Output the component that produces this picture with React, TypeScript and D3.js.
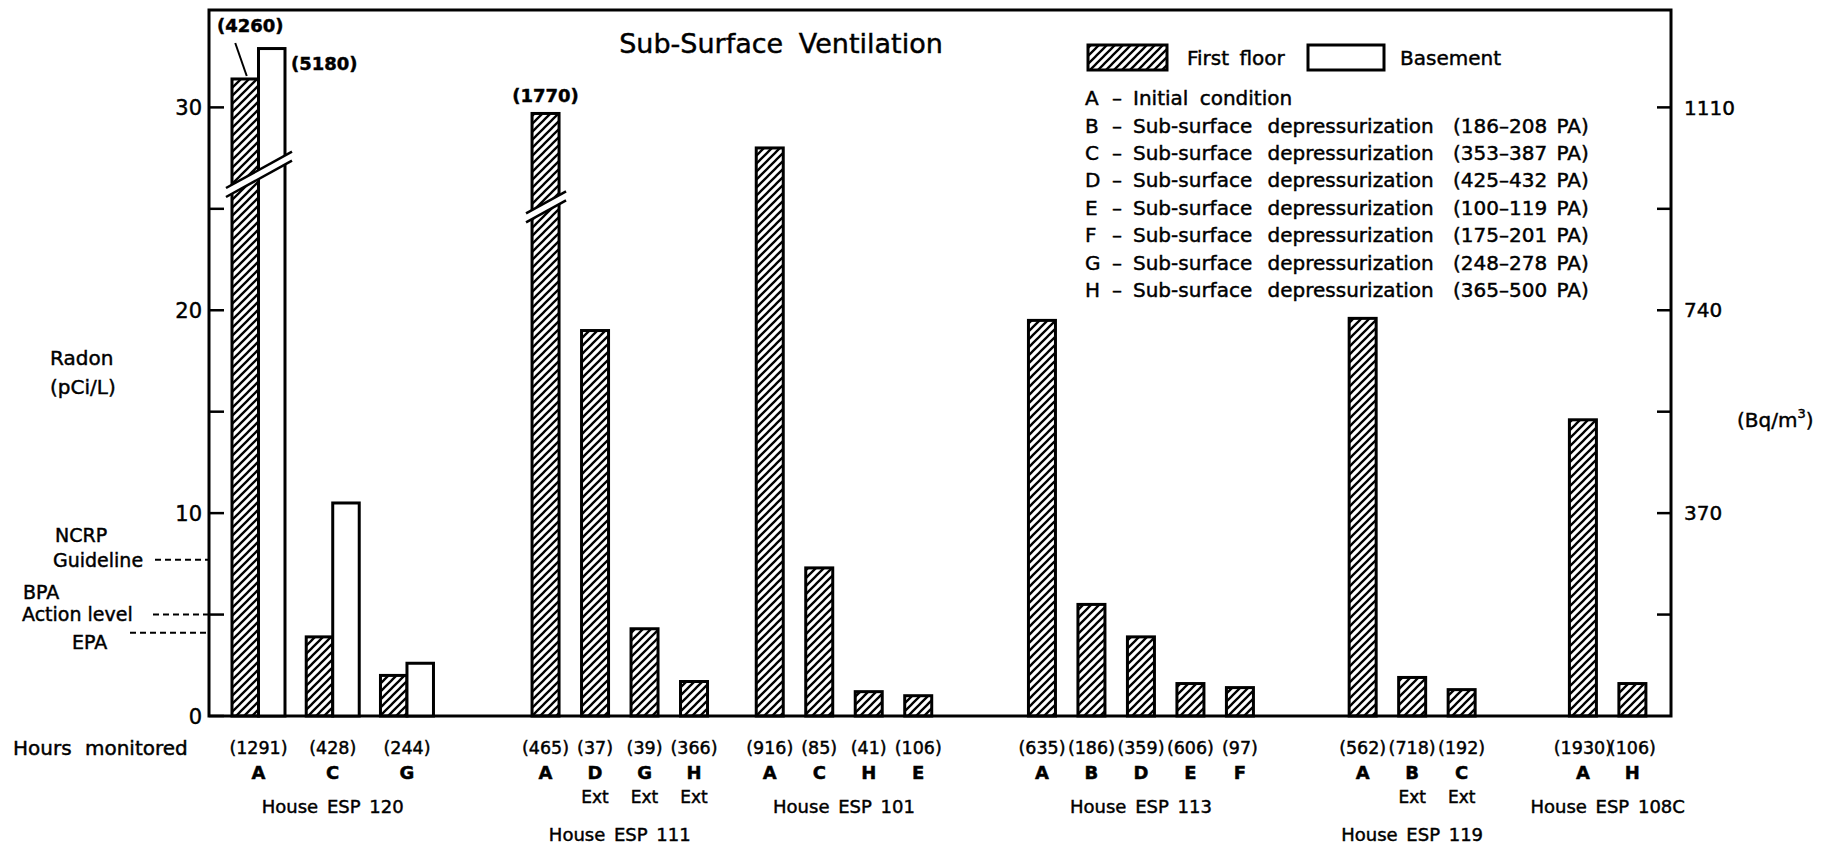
import { useEffect, useRef } from "react";
import * as d3 from "d3";

// houses and the conditions measured in each one
const houses = ["House ESP 120", "House ESP 111", "House ESP 101", "House ESP 113", "House ESP 119", "House ESP 108C"];
const conditions = [
  ["A", "C", "G"],
  ["A", "D", "G", "H"],
  ["A", "C", "H", "E"],
  ["A", "B", "D", "E", "F"],
  ["A", "B", "C"],
  ["A", "H"],
];
const hours = [
  [1291, 428, 244],
  [465, 37, 39, 366],
  [916, 85, 41, 106],
  [635, 186, 359, 606, 97],
  [562, 718, 192],
  [1930, 106],
];
const extMarks = [
  [false, false, false],
  [false, true, true, true],
  [false, false, false, false],
  [false, false, false, false, false],
  [false, true, true],
  [false, false],
];
// radon, pCi/L (bars drawn to these heights)
const firstFloor = [
  [31.4, 3.9, 2.0],
  [29.7, 19.0, 4.3, 1.7],
  [28.0, 7.3, 1.2, 1.0],
  [19.5, 5.5, 3.9, 1.6, 1.4],
  [19.6, 1.9, 1.3],
  [14.6, 1.6],
];
const basement = [[32.9, 10.5, 2.6], null, null, null, null, null];

// off-scale readings (Bq/m3) shown with broken bars
const offScaleFirst = [{ house: 0, cond: 0, label: "(4260)" }, { house: 1, cond: 0, label: "(1770)" }];
const offScaleBasement = [{ house: 0, cond: 0, label: "(5180)" }];
const breakLevels = [{ house: 0, cond: 0, level: 26.7 }, { house: 1, cond: 0, level: 25.1 }];

const guideNames = [["NCRP", "Guideline"], ["BPA", "Action level"], ["EPA"]];
const guideValues = [7.7, 5.0, 4.1];

const leftTicks = [0, 10, 20, 30];
const leftMinorTicks = [5, 15, 25];
const rightTicks = [370, 740, 1110];
const rightMinorTicks = [185, 555, 925];

const legendKeys = ["A", "B", "C", "D", "E", "F", "G", "H"];
const legendText = [
  "Initial condition",
  "Sub-surface depressurization",
  "Sub-surface depressurization",
  "Sub-surface depressurization",
  "Sub-surface depressurization",
  "Sub-surface depressurization",
  "Sub-surface depressurization",
  "Sub-surface depressurization",
];
const legendRange = ["", "(186–208 PA)", "(353–387 PA)", "(425–432 PA)", "(100–119 PA)", "(175–201 PA)", "(248–278 PA)", "(365–500 PA)"];

const FONT = "'DejaVu Sans', sans-serif";

export default function App() {
  const svgRef = useRef<SVGSVGElement>(null);

  useEffect(() => {
    const svg = d3.select(svgRef.current);
    svg.selectAll("*").remove();

    const left = 209, right = 1671, top = 10, base = 716;

    const y = d3.scaleLinear().domain([0, 34.8]).range([base, top]);
    const yBq = d3.scaleLinear().domain([0, 34.8 * 37]).range([base, top]);
    const x = d3.scaleLinear().domain([0, 29.54]).range([left, right]);

    // slot positions along the x axis
    const gapBefore = [1, 2.8, 1.53, 2.5, 2.48, 2.45];
    const slots: any[] = [];
    let pos = 0;
    houses.forEach((h, gi) => {
      pos += gapBefore[gi];
      const step = basement[gi] ? 1.5 : 1;
      conditions[gi].forEach((c, ci) => {
        slots.push({ gi, ci, pos, cond: c, hrs: hours[gi][ci], ext: extMarks[gi][ci], ff: firstFloor[gi][ci], bs: basement[gi] ? basement[gi]![ci] : null });
        if (ci < conditions[gi].length - 1) pos += step;
      });
    });
    const slotOf = (gi, ci) => slots.find(s => s.gi === gi && s.ci === ci);

    const bw = 27, pw = 26.5;
    const ffX = s => (s.bs != null ? x(s.pos) - pw : x(s.pos) - bw / 2);
    const ffW = s => (s.bs != null ? pw : bw);

    // scanned print is heavy, thicken the text a bit
    const txt = (sel, size) => sel
      .attr("font-family", FONT).attr("font-size", size)
      .attr("fill", "#000").attr("stroke", "#000").attr("stroke-width", 0.45);

    const defs = svg.append("defs");
    const pat = defs.append("pattern")
      .attr("id", "hatch")
      .attr("patternUnits", "userSpaceOnUse")
      .attr("width", 8)
      .attr("height", 8);
    pat.append("path")
      .attr("d", "M-2,2 l4,-4 M0,8 l8,-8 M6,10 l4,-4")
      .attr("stroke", "#000")
      .attr("stroke-width", 2.3);

    // frame
    svg.append("rect")
      .attr("x", left).attr("y", top)
      .attr("width", right - left).attr("height", base - top)
      .attr("fill", "none").attr("stroke", "#000").attr("stroke-width", 3);

    // left ticks
    svg.selectAll(".lt")
      .data(leftTicks.concat(leftMinorTicks))
      .enter().append("line")
      .attr("x1", left).attr("x2", left + 15)
      .attr("y1", d => y(d)).attr("y2", d => y(d))
      .attr("stroke", "#000").attr("stroke-width", 2.5);
    txt(svg.selectAll(".ltl")
      .data(leftTicks)
      .enter().append("text")
      .attr("x", 202).attr("y", d => y(d)).attr("dy", "0.36em")
      .attr("text-anchor", "end"), 21)
      .text(d => d);

    // right ticks
    svg.selectAll(".rt")
      .data(rightTicks.concat(rightMinorTicks))
      .enter().append("line")
      .attr("x1", right - 14).attr("x2", right)
      .attr("y1", d => yBq(d)).attr("y2", d => yBq(d))
      .attr("stroke", "#000").attr("stroke-width", 2.5);
    txt(svg.selectAll(".rtl")
      .data(rightTicks)
      .enter().append("text")
      .attr("x", 1684).attr("y", d => yBq(d)).attr("dy", "0.36em"), 20)
      .text(d => d);

    // axis titles
    const radon = txt(svg.append("text"), 20);
    radon.append("tspan").attr("x", 50).attr("y", 365).text("Radon");
    radon.append("tspan").attr("x", 50).attr("y", 394).text("(pCi/L)");
    const bq = txt(svg.append("text").attr("x", 1737).attr("y", 427), 20);
    bq.append("tspan").text("(Bq/m");
    bq.append("tspan").attr("font-size", 13).attr("dy", -9).text("3");
    bq.append("tspan").attr("dy", 9).text(")");

    // guideline markers
    const guideTextX = [[55, 53], [23, 22], [72]];
    const guideTextDy = [[-25, 0], [-22, 0], [9]];
    const guideDashX = [155, 153, 130];
    guideValues.forEach((v, i) => {
      svg.append("line")
        .attr("x1", guideDashX[i]).attr("x2", left)
        .attr("y1", y(v)).attr("y2", y(v))
        .attr("stroke", "#000").attr("stroke-width", 2)
        .attr("stroke-dasharray", "6,4");
      guideNames[i].forEach((t, j) => {
        txt(svg.append("text")
          .attr("x", guideTextX[i][j]).attr("y", y(v) + guideTextDy[i][j]).attr("dy", "0.36em"), 19)
          .text(t);
      });
    });

    // first floor bars
    svg.selectAll(".ff")
      .data(slots)
      .enter().append("rect")
      .attr("x", d => ffX(d))
      .attr("y", d => y(d.ff))
      .attr("width", d => ffW(d))
      .attr("height", d => base - y(d.ff))
      .attr("fill", "url(#hatch)")
      .attr("stroke", "#000").attr("stroke-width", 3);

    // basement bars
    svg.selectAll(".bs")
      .data(slots.filter(s => s.bs != null))
      .enter().append("rect")
      .attr("x", d => x(d.pos))
      .attr("y", d => y(d.bs))
      .attr("width", pw)
      .attr("height", d => base - y(d.bs))
      .attr("fill", "#fff")
      .attr("stroke", "#000").attr("stroke-width", 3);

    // broken-scale marks
    breakLevels.forEach(b => {
      const s = slotOf(b.house, b.cond);
      const x0 = ffX(s) - 6;
      const x1 = (s.bs != null ? x(s.pos) + pw : ffX(s) + bw) + 7;
      const cx = (x0 + x1) / 2, cy = y(b.level), slope = -0.55, gap = 4.5;
      const yy = (X, off) => cy + slope * (X - cx) + off;
      svg.append("polygon")
        .attr("points", [[x0, yy(x0, -gap)], [x1, yy(x1, -gap)], [x1, yy(x1, gap)], [x0, yy(x0, gap)]].map(p => p.join(",")).join(" "))
        .attr("fill", "#fff");
      [-gap, gap].forEach(off => {
        svg.append("line")
          .attr("x1", x0).attr("y1", yy(x0, off))
          .attr("x2", x1).attr("y2", yy(x1, off))
          .attr("stroke", "#000").attr("stroke-width", 2.5);
      });
    });

    // off-scale labels
    offScaleFirst.forEach(o => {
      const s = slotOf(o.house, o.cond);
      const cx = ffX(s) + ffW(s) / 2, ty = y(s.ff);
      if (s.bs != null) {
        txt(svg.append("text")
          .attr("x", cx + 5).attr("y", ty - 53).attr("dy", "0.36em")
          .attr("text-anchor", "middle"), 18)
          .attr("font-weight", "bold")
          .text(o.label);
        svg.append("line")
          .attr("x1", cx - 10).attr("y1", ty - 36)
          .attr("x2", cx + 1.5).attr("y2", ty - 3)
          .attr("stroke", "#000").attr("stroke-width", 2);
      } else {
        txt(svg.append("text")
          .attr("x", cx).attr("y", ty - 18).attr("dy", "0.36em")
          .attr("text-anchor", "middle"), 18)
          .attr("font-weight", "bold")
          .text(o.label);
      }
    });
    offScaleBasement.forEach(o => {
      const s = slotOf(o.house, o.cond);
      txt(svg.append("text")
        .attr("x", x(s.pos) + pw + 6).attr("y", y(s.bs) + 15).attr("dy", "0.36em"), 18)
        .attr("font-weight", "bold")
        .text(o.label);
    });

    // x labels: hours, condition letter, Ext
    txt(svg.append("text")
      .attr("x", 13).attr("y", 748).attr("dy", "0.36em")
      .attr("word-spacing", 7), 20)
      .text("Hours monitored");
    txt(svg.selectAll(".hr")
      .data(slots)
      .enter().append("text")
      .attr("x", d => x(d.pos)).attr("y", 748).attr("dy", "0.36em")
      .attr("text-anchor", "middle"), 17.5)
      .text(d => `(${d.hrs})`);
    txt(svg.selectAll(".cl")
      .data(slots)
      .enter().append("text")
      .attr("x", d => x(d.pos)).attr("y", 773).attr("dy", "0.36em")
      .attr("text-anchor", "middle"), 18)
      .attr("font-weight", "bold")
      .text(d => d.cond);
    txt(svg.selectAll(".ext")
      .data(slots.filter(s => s.ext))
      .enter().append("text")
      .attr("x", d => x(d.pos)).attr("y", 797).attr("dy", "0.36em")
      .attr("text-anchor", "middle"), 17)
      .text("Ext");

    // house names
    houses.forEach((h, gi) => {
      const gs = slots.filter(s => s.gi === gi);
      const cx = (x(gs[0].pos) + x(gs[gs.length - 1].pos)) / 2;
      const hasExt = gs.some(s => s.ext);
      txt(svg.append("text")
        .attr("x", cx).attr("y", hasExt ? 835 : 807).attr("dy", "0.36em")
        .attr("text-anchor", "middle")
        .attr("word-spacing", 3), 18)
        .text(h);
    });

    // title
    txt(svg.append("text")
      .attr("x", 781).attr("y", 43).attr("dy", "0.36em")
      .attr("text-anchor", "middle")
      .attr("word-spacing", 7), 27)
      .text("Sub-Surface Ventilation");

    // legend
    svg.append("rect")
      .attr("x", 1088).attr("y", 45).attr("width", 79).attr("height", 25)
      .attr("fill", "url(#hatch)").attr("stroke", "#000").attr("stroke-width", 3);
    txt(svg.append("text")
      .attr("x", 1187).attr("y", 58).attr("dy", "0.36em")
      .attr("word-spacing", 4), 20)
      .text("First floor");
    svg.append("rect")
      .attr("x", 1308).attr("y", 45).attr("width", 76).attr("height", 25)
      .attr("fill", "#fff").attr("stroke", "#000").attr("stroke-width", 3);
    txt(svg.append("text")
      .attr("x", 1400).attr("y", 58).attr("dy", "0.36em"), 20)
      .text("Basement");

    const ly = d3.scaleLinear().domain([0, 7]).range([98, 290]);
    legendKeys.forEach((k, i) => {
      txt(svg.append("text")
        .attr("x", 1085).attr("y", ly(i)).attr("dy", "0.36em"), 20)
        .text(k);
      txt(svg.append("text")
        .attr("x", 1112).attr("y", ly(i)).attr("dy", "0.36em"), 20)
        .text("–");
      txt(svg.append("text")
        .attr("x", 1133).attr("y", ly(i)).attr("dy", "0.36em")
        .attr("word-spacing", i === 0 ? 5 : 9), 20)
        .text(legendText[i]);
      if (legendRange[i]) {
        txt(svg.append("text")
          .attr("x", 1453).attr("y", ly(i)).attr("dy", "0.36em")
          .attr("word-spacing", 3), 20)
          .text(legendRange[i]);
      }
    });
  }, []);

  return (
    <div>
      <svg ref={svgRef} width={1830} height={850} style={{ position: "absolute", left: 0, top: 0, background: "#fff" }}></svg>
    </div>
  );
}
